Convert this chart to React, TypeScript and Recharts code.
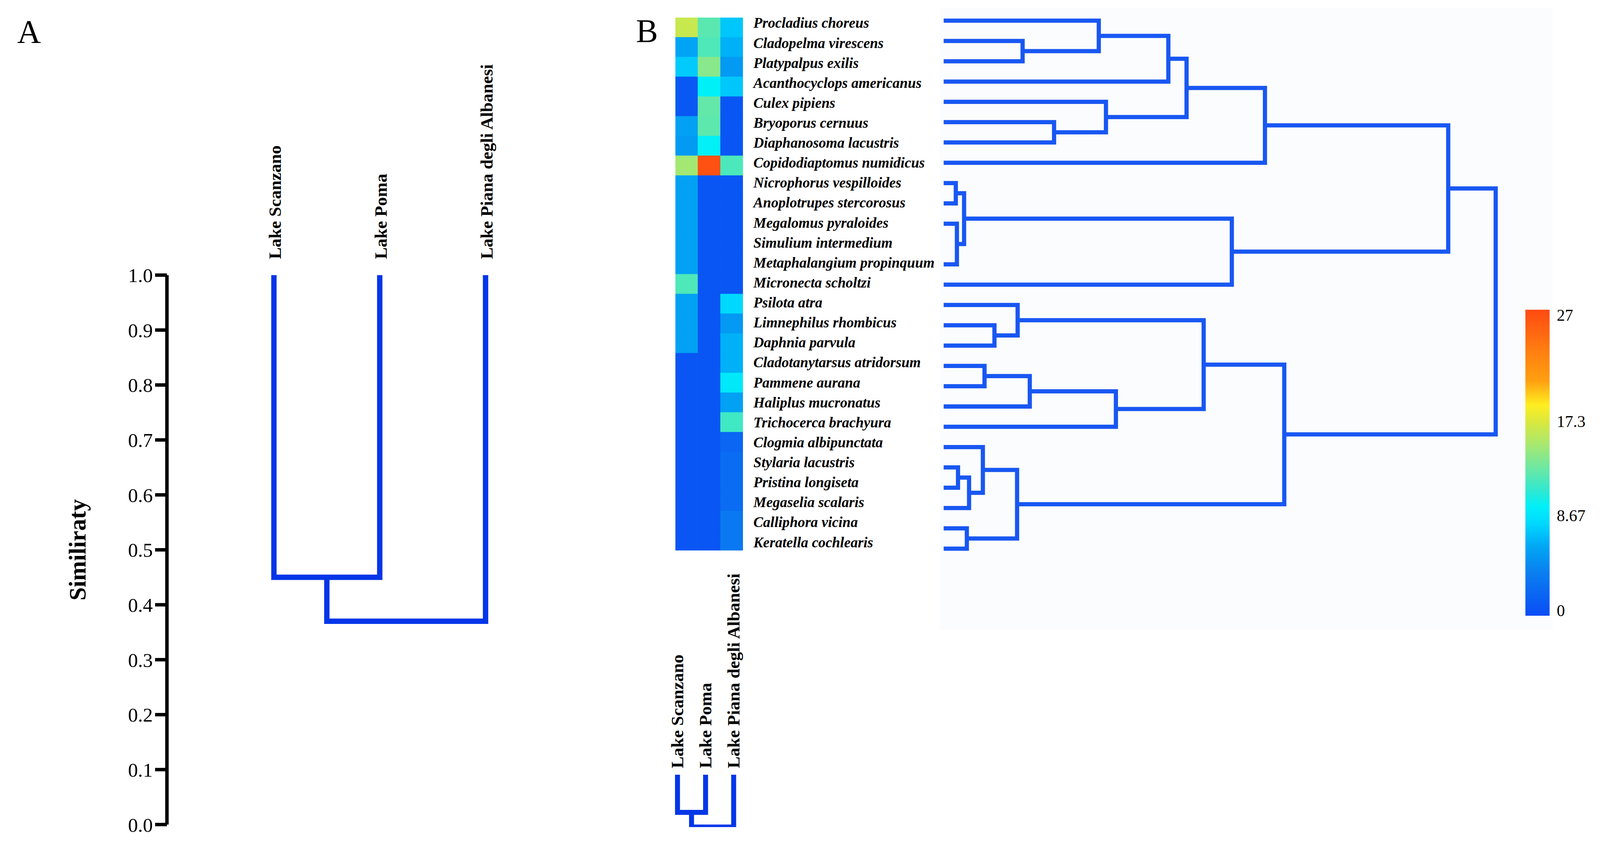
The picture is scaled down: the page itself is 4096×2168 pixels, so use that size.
import React from 'react';
import { LineChart, Line, XAxis, YAxis, BarChart, Bar, Cell, CartesianGrid } from 'recharts';

// everything below is measured on the 4184x2215 reference and drawn at S
const S = 0.978;
const s = (v: number) => v * S;
const SERIF = '"Liberation Serif", "Times New Roman", Times, serif';

type Merge = { a: string; b: string; h: number };
type Pt = { p: number; h: number };

// ---- panel A: lake similarity
const lakes = ['Lake Scanzano', 'Lake Poma', 'Lake Piana degli Albanesi'];
const similarityTicks = [0, 0.1, 0.2, 0.3, 0.4, 0.5, 0.6, 0.7, 0.8, 0.9, 1.0];
const lakeMerges: Merge[] = [
  { a: 'L0', b: 'L1', h: 0.45 },
  { a: 'N0', b: 'L2', h: 0.37 },
];

// ---- panel B: species heatmap
const species = [
  'Procladius choreus', 'Cladopelma virescens', 'Platypalpus exilis', 'Acanthocyclops americanus',
  'Culex pipiens', 'Bryoporus cernuus', 'Diaphanosoma lacustris', 'Copidodiaptomus numidicus',
  'Nicrophorus vespilloides', 'Anoplotrupes stercorosus', 'Megalomus pyraloides', 'Simulium intermedium',
  'Metaphalangium propinquum', 'Micronecta scholtzi', 'Psilota atra', 'Limnephilus rhombicus',
  'Daphnia parvula', 'Cladotanytarsus atridorsum', 'Pammene aurana', 'Haliplus mucronatus',
  'Trichocerca brachyura', 'Clogmia albipunctata', 'Stylaria lacustris', 'Pristina longiseta',
  'Megaselia scalaris', 'Calliphora vicina', 'Keratella cochlearis',
];
const scanzanoCounts = [16.5, 5.7, 7.4, 0.4, 0.4, 5.5, 5.1, 15, 5.5, 5.5, 5.5, 5.5, 5.5, 12, 5.5, 5.5, 5.5, 0.3, 0.3, 0.3, 0.3, 0.3, 0.3, 0.3, 0.3, 0.3, 0.3];
const pomaCounts = [12.4, 12, 14, 9.5, 12.7, 12.5, 9.6, 27, 0.3, 0.3, 0.3, 0.3, 0.3, 0.3, 0.3, 0.3, 0.3, 0.3, 0.3, 0.3, 0.3, 0.3, 0.3, 0.3, 0.3, 0.3, 0.3];
const pianaCounts = [7.2, 6.3, 5.1, 7.2, 0.3, 0.3, 0.3, 11.9, 0.3, 0.3, 0.3, 0.3, 0.3, 0.3, 8, 5, 6.3, 6.3, 9, 5.5, 11.5, 1.5, 2, 2, 2, 3, 3];

// species dendrogram, leaves are row indices, h = linkage distance (root = 1)
const speciesMerges: Merge[] = [
  { a: 'L1', b: 'L2', h: 0.143 },
  { a: 'L0', b: 'N0', h: 0.281 },
  { a: 'N1', b: 'L3', h: 0.407 },
  { a: 'L5', b: 'L6', h: 0.2 },
  { a: 'L4', b: 'N3', h: 0.294 },
  { a: 'N2', b: 'N4', h: 0.44 },
  { a: 'N5', b: 'L7', h: 0.582 },
  { a: 'L8', b: 'L9', h: 0.022 },
  { a: 'L10', b: 'L12', h: 0.024 },
  { a: 'N7', b: 'N8', h: 0.037 },
  { a: 'N9', b: 'L13', h: 0.522 },
  { a: 'N6', b: 'N10', h: 0.914 },
  { a: 'L15', b: 'L16', h: 0.092 },
  { a: 'L14', b: 'N12', h: 0.134 },
  { a: 'L17', b: 'L18', h: 0.074 },
  { a: 'N14', b: 'L19', h: 0.156 },
  { a: 'N15', b: 'L20', h: 0.312 },
  { a: 'N13', b: 'N16', h: 0.471 },
  { a: 'L22', b: 'L23', h: 0.026 },
  { a: 'N18', b: 'L24', h: 0.046 },
  { a: 'L21', b: 'N19', h: 0.071 },
  { a: 'L25', b: 'L26', h: 0.042 },
  { a: 'N20', b: 'N21', h: 0.133 },
  { a: 'N17', b: 'N22', h: 0.617 },
  { a: 'N11', b: 'N23', h: 1.0 },
];
const lakeColumnMerges: Merge[] = [
  { a: 'L0', b: 'L1', h: 0.72 },
  { a: 'N0', b: 'L2', h: 1.0 },
];

const colorbarTicks = [0, 8.67, 17.3, 27];
const colorbarDomain: [number, number] = [-0.49, 27.49];
const colorbarStops: [number, string][] = [
  [0, '#0a4cf5'], [0.143, '#0a80f0'], [0.229, '#00a8f5'], [0.301, '#00d8ff'],
  [0.358, '#00f0f8'], [0.409, '#30e8d0'], [0.487, '#70e8a0'], [0.559, '#a8e870'],
  [0.631, '#d8e840'], [0.688, '#ffee20'], [0.767, '#ffa010'], [0.86, '#ff8010'], [1, '#ff4a12'],
];

const BLUE_A = '#0436e8';
const BLUE_B = '#1857f2';

function linksOf(merges: Merge[], leafH: number): Pt[][] {
  const nodes: Pt[] = [];
  const at = (id: string): Pt =>
    id[0] === 'L' ? { p: Number(id.slice(1)), h: leafH } : nodes[Number(id.slice(1))];
  return merges.map((m) => {
    const A = at(m.a);
    const B = at(m.b);
    nodes.push({ p: (A.p + B.p) / 2, h: m.h });
    return [A, { p: A.p, h: m.h }, { p: B.p, h: m.h }, B];
  });
}

function rgb(hex: string) {
  const n = parseInt(hex.slice(1), 16);
  return [(n >> 16) & 255, (n >> 8) & 255, n & 255];
}

function colorAt(v: number) {
  const [lo, hi] = colorbarDomain;
  const f = Math.max(0, Math.min(1, (v - lo) / (hi - lo)));
  for (let i = 0; i < colorbarStops.length - 1; i++) {
    const [f0, c0] = colorbarStops[i];
    const [f1, c1] = colorbarStops[i + 1];
    if (f <= f1) {
      const t = (f - f0) / (f1 - f0);
      const a = rgb(c0);
      const b = rgb(c1);
      const m = a.map((x, k) => Math.round(x + (b[k] - x) * t));
      return `rgb(${m[0]},${m[1]},${m[2]})`;
    }
  }
  return colorbarStops[colorbarStops.length - 1][1];
}

const lakeLinks = linksOf(lakeMerges, 1);
const speciesLinks = linksOf(speciesMerges, 0);
const columnLinks = linksOf(lakeColumnMerges, 0);

const heatRows = species.map((name) => ({ name, sc: 1, po: 1, pi: 1 }));
const heatColumns = [
  { key: 'sc', values: scanzanoCounts },
  { key: 'po', values: pomaCounts },
  { key: 'pi', values: pianaCounts },
];
const colorbarRows = [{ name: 'scale', range: colorbarDomain }];

const rotatedLake = (x: number, y: number, label: string, size: number) => (
  <text
    transform={`rotate(-90 ${x} ${y})`}
    x={x}
    y={y}
    fontFamily={SERIF}
    fontWeight="bold"
    fontSize={size}
    fill="#000"
  >
    {label}
  </text>
);

function PanelA() {
  return (
    <LineChart width={s(1400)} height={s(2215)} margin={{ top: 0, right: 0, bottom: s(57), left: 0 }}>
      <XAxis
        type="number"
        dataKey="p"
        orientation="top"
        height={s(720)}
        domain={[-1.0108, 2.4657]}
        allowDataOverflow
        ticks={[0, 1, 2]}
        interval={0}
        axisLine={false}
        tickLine={false}
        tick={(t: any) => rotatedLake(t.x + s(18), s(678), lakes[t.payload.value], s(46))}
      />
      <YAxis
        type="number"
        domain={[0, 1]}
        ticks={similarityTicks}
        interval={0}
        width={s(437)}
        tickFormatter={(v: number) => v.toFixed(1)}
        axisLine={{ stroke: '#000', strokeWidth: s(9) }}
        tickLine={{ stroke: '#000', strokeWidth: s(9) }}
        tickSize={s(31)}
        tickMargin={s(6)}
        tick={{ fill: '#000', fontSize: s(52), fontFamily: SERIF }}
        label={{
          value: 'Similiraty',
          content: (p: any) => {
            const vb = p.viewBox || {};
            const cy = vb.y !== undefined ? vb.y + vb.height / 2 : s(1437);
            const bx = s(224);
            return (
              <text
                transform={`rotate(-90 ${bx} ${cy})`}
                x={bx}
                y={cy}
                textAnchor="middle"
                fontFamily={SERIF}
                fontWeight="bold"
                fontSize={s(62)}
                fill="#000"
              >
                Similiraty
              </text>
            );
          },
        }}
      />
      {lakeLinks.map((seg, i) => (
        <Line
          key={i}
          data={seg}
          dataKey="h"
          type="linear"
          stroke={BLUE_A}
          strokeWidth={s(14)}
          strokeLinejoin="miter"
          strokeLinecap="butt"
          dot={false}
          activeDot={false}
          isAnimationActive={false}
        />
      ))}
    </LineChart>
  );
}

function Heatmap() {
  return (
    <BarChart
      layout="vertical"
      width={s(177)}
      height={s(1395)}
      data={heatRows}
      margin={{ top: 0, right: 0, bottom: 0, left: 0 }}
      barCategoryGap={0}
      barGap={0}
    >
      <XAxis type="number" domain={[0, 3]} hide />
      <YAxis type="category" dataKey="name" hide />
      {heatColumns.map((col) => (
        <Bar key={col.key} dataKey={col.key} stackId="cells" isAnimationActive={false}>
          {col.values.map((v, i) => (
            <Cell key={i} fill={colorAt(v)} stroke={colorAt(v)} strokeWidth={0.8} />
          ))}
        </Bar>
      ))}
    </BarChart>
  );
}

function SpeciesDendrogram() {
  return (
    <LineChart width={s(2104)} height={s(1670)} margin={{ top: s(22), right: 0, bottom: s(23), left: 0 }}>
      <CartesianGrid fill="#fbfcfd" stroke="none" horizontal={false} vertical={false} yAxisId="leaf" />
      <XAxis type="number" dataKey="h" domain={[-0.00692, 1.10311]} allowDataOverflow hide />
      <YAxis yAxisId="leaf" type="number" domain={[-0.602, 29.97]} reversed allowDataOverflow hide />
      <YAxis
        yAxisId="lab"
        type="number"
        domain={[-0.9757, 30.113]}
        reversed
        allowDataOverflow
        width={s(500)}
        ticks={species.map((_, i) => i)}
        interval={0}
        axisLine={false}
        tickLine={false}
        tick={(t: any) => (
          <text
            x={s(12)}
            y={t.y}
            fontFamily={SERIF}
            fontWeight="bold"
            fontStyle="italic"
            fontSize={s(38)}
            fill="#000"
          >
            {species[t.payload.value]}
          </text>
        )}
      />
      {speciesLinks.map((seg, i) => (
        <Line
          key={i}
          yAxisId="leaf"
          data={seg}
          dataKey="p"
          type="linear"
          stroke={BLUE_B}
          strokeWidth={s(11)}
          strokeLinejoin="miter"
          strokeLinecap="butt"
          dot={false}
          activeDot={false}
          isAnimationActive={false}
        />
      ))}
    </LineChart>
  );
}

function ColumnDendrogram() {
  return (
    <LineChart width={s(300)} height={s(735)} margin={{ top: 0, right: 0, bottom: s(50), left: 0 }}>
      <XAxis
        type="number"
        dataKey="p"
        orientation="top"
        height={s(548)}
        domain={[-0.993, 3.088]}
        allowDataOverflow
        ticks={[0, 1, 2]}
        interval={0}
        axisLine={false}
        tickLine={false}
        tick={(t: any) => rotatedLake(t.x + s(15), s(531), lakes[t.payload.value], s(46))}
      />
      <YAxis type="number" domain={[0, 1]} reversed allowDataOverflow hide />
      {columnLinks.map((seg, i) => (
        <Line
          key={i}
          data={seg}
          dataKey="h"
          type="linear"
          stroke={BLUE_A}
          strokeWidth={s(13)}
          strokeLinejoin="miter"
          strokeLinecap="butt"
          dot={false}
          activeDot={false}
          isAnimationActive={false}
        />
      ))}
    </LineChart>
  );
}

function Colorbar() {
  return (
    <BarChart
      width={s(191)}
      height={s(841)}
      data={colorbarRows}
      margin={{ top: s(20), right: 0, bottom: s(20), left: 0 }}
      barCategoryGap={0}
    >
      <defs>
        <linearGradient id="cbar" x1="0" y1="1" x2="0" y2="0">
          {colorbarStops.map(([o, c]) => (
            <stop key={o} offset={o} stopColor={c} />
          ))}
        </linearGradient>
      </defs>
      <XAxis dataKey="name" hide />
      <YAxis
        orientation="right"
        type="number"
        domain={colorbarDomain}
        allowDataOverflow
        ticks={colorbarTicks}
        interval={0}
        width={s(128)}
        axisLine={false}
        tickLine={false}
        tickSize={0}
        tickMargin={s(19)}
        tickFormatter={(v: number) => String(v)}
        tick={{ fill: '#000', fontSize: s(43), fontFamily: SERIF }}
      />
      <Bar dataKey="range" fill="url(#cbar)" isAnimationActive={false} />
    </BarChart>
  );
}

const place = (x: number, y: number): React.CSSProperties => ({
  position: 'absolute',
  left: s(x),
  top: s(y),
});

export default function App() {
  return (
    <div
      style={{
        position: 'absolute',
        left: 0,
        top: 0,
        width: 4096,
        height: 2168,
        overflow: 'hidden',
        background: '#fff',
      }}
    >
      <div style={place(0, 0)}>
        <PanelA />
      </div>
      <div style={place(1960, 0)}>
        <SpeciesDendrogram />
      </div>
      <div style={place(1768, 46)}>
        <Heatmap />
      </div>
      <div style={place(1700, 1480)}>
        <ColumnDendrogram />
      </div>
      <div style={place(3993, 790)}>
        <Colorbar />
      </div>
      <svg width={4096} height={2168} style={{ position: 'absolute', left: 0, top: 0, pointerEvents: 'none' }}>
        <text x={s(45)} y={s(112)} fontFamily={SERIF} fontSize={s(86)} fill="#000">A</text>
        <text x={s(1665)} y={s(110)} fontFamily={SERIF} fontSize={s(86)} fill="#000">B</text>
      </svg>
    </div>
  );
}
